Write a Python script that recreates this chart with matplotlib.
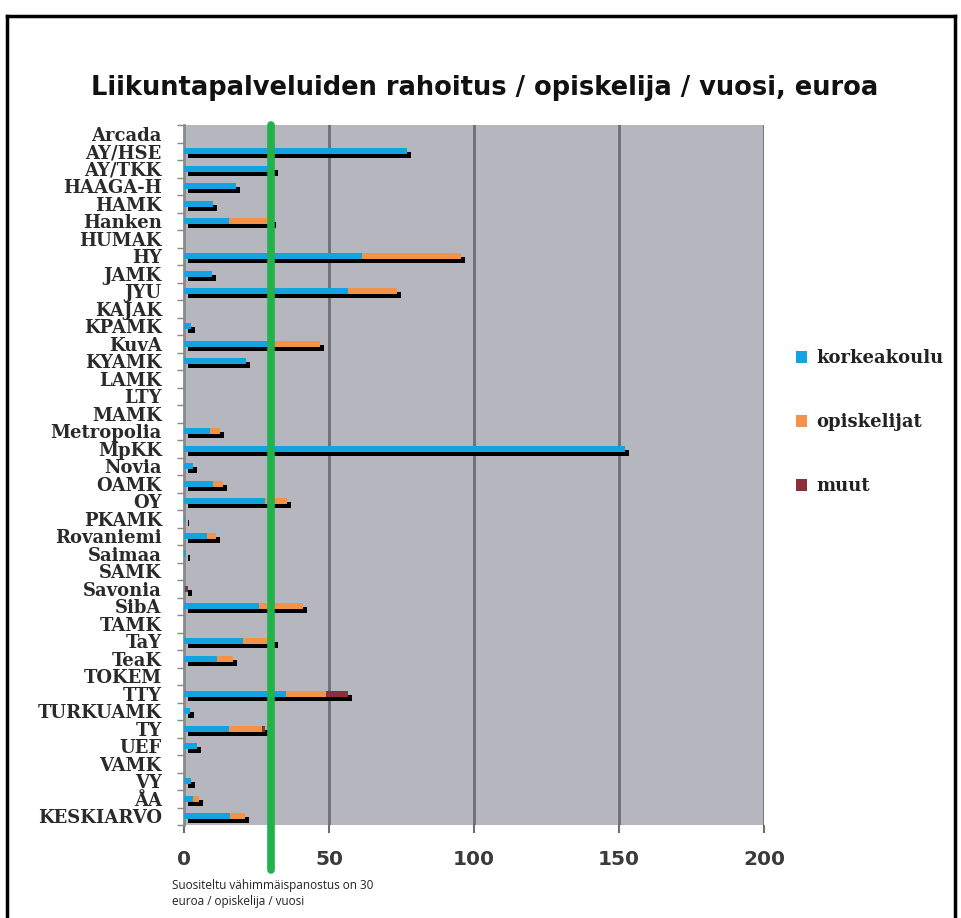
import matplotlib
matplotlib.use("Agg")
import matplotlib.pyplot as plt
import matplotlib.transforms as mtransforms
from matplotlib.lines import Line2D
import numpy as np

categories = ["Arcada", "AY/HSE", "AY/TKK", "HAAGA-H", "HAMK", "Hanken", "HUMAK", "HY",
              "JAMK", "JYU", "KAJAK", "KPAMK", "KuvA", "KYAMK", "LAMK", "LTY", "MAMK",
              "Metropolia", "MpKK", "Novia", "OAMK", "OY", "PKAMK", "Rovaniemi", "Saimaa",
              "SAMK", "Savonia", "SibA", "TAMK", "TaY", "TeaK", "TOKEM", "TTY", "TURKUAMK",
              "TY", "UEF", "VAMK", "VY", "ÅA", "KESKIARVO"]
korkeakoulu = [0, 77, 31, 18, 10, 15.5, 0, 61.5, 9.5, 56.5, 0, 2.5, 29, 21.5, 0, 0, 0,
               9, 152, 3, 10, 28, 0.4, 8, 0.8, 0, 0.5, 26, 0, 20.5, 11.5, 0, 35, 2,
               15.5, 4.5, 0, 2.5, 3, 16]
opiskelijat = [0, 0, 0, 0, 0, 15, 0, 34, 0, 17, 0, 0, 18, 0, 0, 0, 0,
               3.3, 0, 0, 3.5, 7.5, 0, 3, 0, 0, 0, 15, 0, 10.5, 5.3, 0, 14, 0,
               11.5, 0, 0, 0, 2, 5]
muut = [0, 0, 0, 0, 0, 0, 0, 0, 0, 0, 0, 0, 0, 0, 0, 0, 0,
        0, 0, 0, 0, 0, 0, 0, 0, 0, 1.0, 0, 0, 0, 0, 0, 7.5, 0,
        0.8, 0, 0, 0, 0, 0]
series_names = ["korkeakoulu", "opiskelijat", "muut"]
x_ticks = [0, 50, 100, 150, 200]
recommended = 30

title = "Liikuntapalveluiden rahoitus / opiskelija / vuosi, euroa"
note = "Suositeltu vähimmäispanostus on 30\neuroa / opiskelija / vuosi"

c_blue = "#12a3e0"
c_orange = "#f39249"
c_muut = "#8c2f39"
c_bg = "#b6b6be"
c_grid = "#6c6f72"
c_green = "#22b24c"

W, H = 962, 918
fig = plt.figure(figsize=(W / 100, H / 100), dpi=100)
fig.patch.set_facecolor("white")
ax = fig.add_axes([184 / W, 1 - 825 / H, (764 - 184) / W, (825 - 125) / H])
ax.set_facecolor(c_bg)

y = np.arange(len(categories))
k = np.array(korkeakoulu)
o = np.array(opiskelijat)
m = np.array(muut)
total = k + o + m
bh = 0.36

shadow_tr = mtransforms.offset_copy(ax.transData, fig=fig, x=4, y=-4, units="dots")
ax.barh(y, total, height=bh, color="black", linewidth=0, transform=shadow_tr, zorder=2)
b1 = ax.barh(y, k, height=bh, color=c_blue, linewidth=0, zorder=3, label=series_names[0])
b2 = ax.barh(y, o, left=k, height=bh, color=c_orange, linewidth=0, zorder=3, label=series_names[1])
b3 = ax.barh(y, m, left=k + o, height=bh, color=c_muut, linewidth=0, zorder=3, label=series_names[2])

ax.set_xlim(0, 200)
ax.set_ylim(len(categories) - 0.5, -0.5)
ax.set_xticks(x_ticks)
ax.set_xticklabels([str(t) for t in x_ticks], fontsize=14.5, fontweight="bold",
                   color="#3a3a3a", family="DejaVu Sans")
ax.tick_params(axis="x", length=6, color=c_grid, width=1.5, pad=12)
for t in x_ticks[1:]:
    ax.axvline(t, color=c_grid, linewidth=2, zorder=1)

ax.set_yticks(y)
ax.set_yticklabels(categories, family="DejaVu Serif", fontweight="bold", fontsize=13,
                   color="#2a2a2a")
ax.tick_params(axis="y", length=0, pad=16)
ax.set_yticks(np.arange(len(categories) + 1) - 0.5, minor=True)
ax.tick_params(axis="y", which="minor", length=5, color="#888888", width=1)

for s in ["top", "right", "bottom"]:
    ax.spines[s].set_visible(False)
ax.spines["left"].set_color("#8a8a8a")
ax.spines["left"].set_linewidth(2)

# recommended minimum line
gtr = mtransforms.blended_transform_factory(ax.transData, ax.transAxes)
ax.add_line(Line2D([recommended, recommended], [1.0, -0.064], transform=gtr,
                   color=c_green, linewidth=5.5, solid_capstyle="round",
                   clip_on=False, zorder=6))

fig.text(485 / W, 1 - 88 / H, title, ha="center", va="center", fontsize=18.5,
         fontweight="bold", family="DejaVu Sans", color="#111111")

leg = fig.legend(handles=[b1, b2, b3], labels=series_names, loc="upper left",
                 bbox_to_anchor=(780 / W, 1 - 333 / H), frameon=False,
                 prop={"family": "DejaVu Serif", "weight": "bold", "size": 13},
                 handlelength=0.6, handleheight=0.6, handletextpad=0.5,
                 labelspacing=2.55)
for t in leg.get_texts():
    t.set_color("#222222")

fig.text(172 / W, 1 - 879 / H, note, ha="left", va="top", fontsize=8.5,
         family="Open Sans", color="#222222", linespacing=1.3)

# outer frame
for xs, ys in [([7 / W, 7 / W], [0, 1 - 16 / H]),
               ([7 / W, 955 / W], [1 - 16 / H, 1 - 16 / H]),
               ([955 / W, 955 / W], [1 - 16 / H, 0])]:
    fig.add_artist(Line2D(xs, ys, transform=fig.transFigure, color="black", linewidth=2.5))

fig.savefig("out.png", dpi=100)
